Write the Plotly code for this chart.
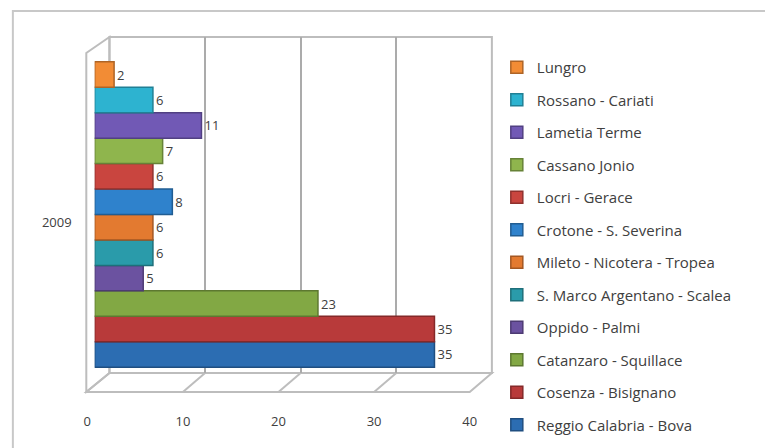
import plotly.graph_objects as go

# Dioceses, listed bottom-to-top as they are stacked in the 2009 cluster
dioceses = [
    "Reggio Calabria - Bova",
    "Cosenza - Bisignano",
    "Catanzaro - Squillace",
    "Oppido - Palmi",
    "S. Marco Argentano - Scalea",
    "Mileto - Nicotera - Tropea",
    "Crotone - S. Severina",
    "Locri - Gerace",
    "Cassano Jonio",
    "Lametia Terme",
    "Rossano - Cariati",
    "Lungro",
]
values_2009 = [35, 35, 23, 5, 6, 6, 8, 6, 7, 11, 6, 2]
colors = [
    "#2C6DB2", "#B83A3A", "#82A844", "#6B52A0", "#2A9BAA", "#E37A30",
    "#2F82CC", "#C9453F", "#8FB54D", "#7159B5", "#2DB3D0", "#F28C35",
]
year_labels = ["2009"]
x_ticks = [0, 10, 20, 30, 40]

W, H = 765, 448
FONT = "Open Sans"
TEXT = "#404040"


def fx(px):
    return px / W


def fy(py):
    return 1 - py / H


def darker(hex_color, f=0.72):
    h = hex_color.lstrip("#")
    r, g, b = (int(h[i:i + 2], 16) for i in (0, 2, 4))
    return "rgb(%d,%d,%d)" % (r * f, g * f, b * f)


# pixel geometry of the pseudo-3D box
BACK_L, BACK_R, BACK_T, BACK_B = 107, 495, 37, 373
FRONT_L, FRONT_B, FRONT_T = 84.5, 392, 53
UNIT = 9.85  # pixels per unit along the bars' value axis
BAR0 = 92

fig = go.Figure()

# invisible anchors so the wall and label axes are drawn
fig.add_trace(go.Scatter(x=[None], y=[None], xaxis="x", yaxis="y",
                         showlegend=False, hoverinfo="skip"))
fig.add_trace(go.Scatter(x=[None], y=[None], xaxis="x3", yaxis="y2",
                         showlegend=False, hoverinfo="skip"))

for i, (name, val, col) in enumerate(zip(dioceses, values_2009, colors)):
    fig.add_trace(go.Bar(
        y=year_labels, x=[val], name=name, orientation="h",
        xaxis="x2", yaxis="y2", legendgroup=name,
        legendrank=1000 - i,  # legend lists the top bar first
        marker=dict(color=col, line=dict(color=darker(col), width=1.5)),
        text=[val], textposition="outside", constraintext="none",
        textfont=dict(family=FONT, size=13, color=TEXT),
        cliponaxis=False,
    ))

shapes = []
line_grey = dict(color="#BDBDBD", width=2)
# outer chart frame
shapes.append(dict(type="rect", xref="paper", yref="paper",
                   x0=fx(9), y0=-0.05, x1=1.05, y1=fy(11),
                   line=dict(color="#C8C8C8", width=2), layer="below"))
# back wall
shapes.append(dict(type="rect", xref="paper", yref="paper",
                   x0=fx(BACK_L), y0=fy(BACK_B), x1=fx(BACK_R), y1=fy(BACK_T),
                   line=line_grey, layer="below"))
# left wall
shapes.append(dict(type="path", xref="paper", yref="paper",
                   path="M %f,%f L %f,%f L %f,%f L %f,%f Z" % (
                       fx(BACK_L), fy(BACK_T), fx(FRONT_L - 1), fy(FRONT_T),
                       fx(FRONT_L - 1), fy(FRONT_B), fx(BACK_L), fy(BACK_B)),
                   line=line_grey, layer="below"))
# floor
shapes.append(dict(type="path", xref="paper", yref="paper",
                   path="M %f,%f L %f,%f L %f,%f L %f,%f Z" % (
                       fx(BACK_L), fy(BACK_B), fx(BACK_R), fy(BACK_B),
                       fx(FRONT_L + 388), fy(FRONT_B), fx(FRONT_L - 1), fy(FRONT_B)),
                   line=line_grey, layer="below"))
# floor ticks joining back gridlines to the front edge
for t in x_ticks[1:-1]:
    shapes.append(dict(type="line", xref="paper", yref="paper",
                       x0=fx(BACK_L + t * 9.7), y0=fy(BACK_B),
                       x1=fx(FRONT_L + t * 9.7), y1=fy(FRONT_B),
                       line=line_grey, layer="below"))

fig.update_layout(
    width=W, height=H,
    margin=dict(l=0, r=0, t=0, b=0),
    paper_bgcolor="white",
    plot_bgcolor="rgba(0,0,0,0)",
    barmode="group", bargap=0.14, bargroupgap=0,
    font=dict(family=FONT, size=13, color=TEXT),
    showlegend=True,
    legend=dict(
        x=fx(500), y=fy(51), xanchor="left", yanchor="top",
        traceorder="grouped", tracegroupgap=10,
        font=dict(family=FONT, size=15, color=TEXT),
        bgcolor="rgba(0,0,0,0)",
    ),
    # back wall with gridlines
    xaxis=dict(domain=[fx(BACK_L), fx(BACK_R)], range=[0, 40], anchor="y",
               showgrid=True, gridcolor="#ABABAB", gridwidth=2, dtick=10,
               tick0=0, showticklabels=False, zeroline=False, showline=False,
               fixedrange=True),
    yaxis=dict(domain=[fy(BACK_B), fy(BACK_T)], range=[0, 1], anchor="x",
               showgrid=False, showticklabels=False, zeroline=False,
               showline=False, fixedrange=True),
    # value axis for the bars
    xaxis2=dict(domain=[fx(BAR0), fx(BAR0 + 40 * UNIT)], range=[0, 40],
                anchor="y2", showgrid=False, showticklabels=False,
                zeroline=False, showline=False, fixedrange=True),
    yaxis2=dict(domain=[fy(FRONT_B), fy(BACK_T)], anchor="x2",
                type="category", range=[-0.5, 0.5],
                showgrid=False, zeroline=False, showline=False,
                ticks="", ticklabelstandoff=22, ticklabelshift=8,
                tickfont=dict(family=FONT, size=13, color=TEXT),
                fixedrange=True),
    # value labels along the front edge
    xaxis3=dict(domain=[fx(FRONT_L), fx(FRONT_L + 388)], range=[0, 40],
                anchor="free", position=fy(FRONT_B), tickvals=x_ticks,
                showgrid=False, zeroline=False, showline=False, ticks="",
                ticklabelstandoff=20,
                tickfont=dict(family=FONT, size=13, color=TEXT),
                fixedrange=True),
    shapes=shapes,
)

fig.write_html("out.html")
